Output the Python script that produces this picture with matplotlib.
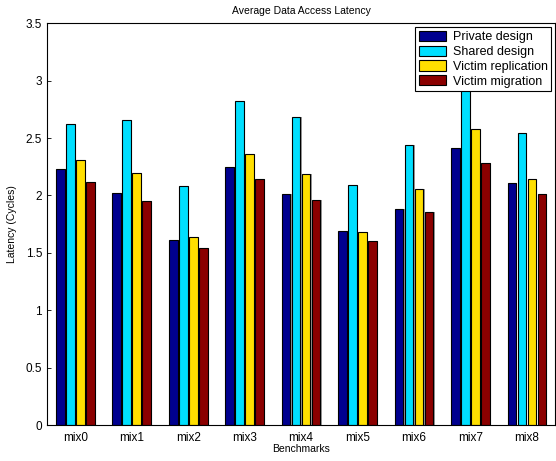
import matplotlib
matplotlib.use('Agg')
import matplotlib.pyplot as plt
import numpy as np

plt.rcParams['font.family'] = ['Liberation Sans', 'DejaVu Sans']

benchmarks = ['mix0', 'mix1', 'mix2', 'mix3', 'mix4', 'mix5', 'mix6', 'mix7', 'mix8']
private = [2.23, 2.02, 1.61, 2.25, 2.01, 1.69, 1.88, 2.41, 2.11]
shared = [2.62, 2.66, 2.08, 2.82, 2.68, 2.09, 2.44, 2.97, 2.54]
replication = [2.31, 2.20, 1.64, 2.36, 2.19, 1.68, 2.06, 2.58, 2.14]
migration = [2.12, 1.95, 1.54, 2.14, 1.96, 1.60, 1.86, 2.28, 2.01]

series = [
    ('Private design', private, '#00008F'),
    ('Shared design', shared, '#00DFFF'),
    ('Victim replication', replication, '#FFDF00'),
    ('Victim migration', migration, '#8B0000'),
]

fig = plt.figure(figsize=(5.56, 4.61), dpi=100)
ax = fig.add_axes([0.0845, 0.078, 0.914, 0.8715])

x = np.arange(1, len(benchmarks) + 1)
pitch = 0.177
width = 0.155
for i, (name, vals, col) in enumerate(series):
    off = (i - 1.5) * pitch
    ax.bar(x + off + 0.02, vals, width, color='#999999', linewidth=0, zorder=1)
    ax.bar(x + off, vals, width, color=col, edgecolor='black', linewidth=0.8,
           label=name, zorder=2)

ax.set_xlim(0.5, 9.5)
ax.set_ylim(0, 3.5)
ax.set_yticks(np.arange(0, 3.51, 0.5))
ax.set_yticklabels(['0', '0.5', '1', '1.5', '2', '2.5', '3', '3.5'])
ax.set_xticks(x)
ax.set_xticklabels(benchmarks)
ax.tick_params(direction='in', length=3, labelsize=8.5, width=0.6)
ax.tick_params(axis='x', length=0, pad=5)
for s in ax.spines.values():
    s.set_linewidth(0.8)

ax.set_xlabel('Benchmarks', fontsize=7.5, labelpad=0)
ax.set_ylabel('Latency (Cycles)', fontsize=7.5, labelpad=6)
ax.set_title('Average Data Access Latency', fontsize=7.5, pad=7)

leg = ax.legend(loc='upper right', fontsize=9, fancybox=False, framealpha=1,
                edgecolor='black', borderpad=0.3, labelspacing=0.18,
                handlelength=2.2, handleheight=0.9, handletextpad=0.5,
                borderaxespad=0.3)
leg.get_frame().set_linewidth(0.8)
leg.set_zorder(5)

fig.savefig('out.png', dpi=100)
